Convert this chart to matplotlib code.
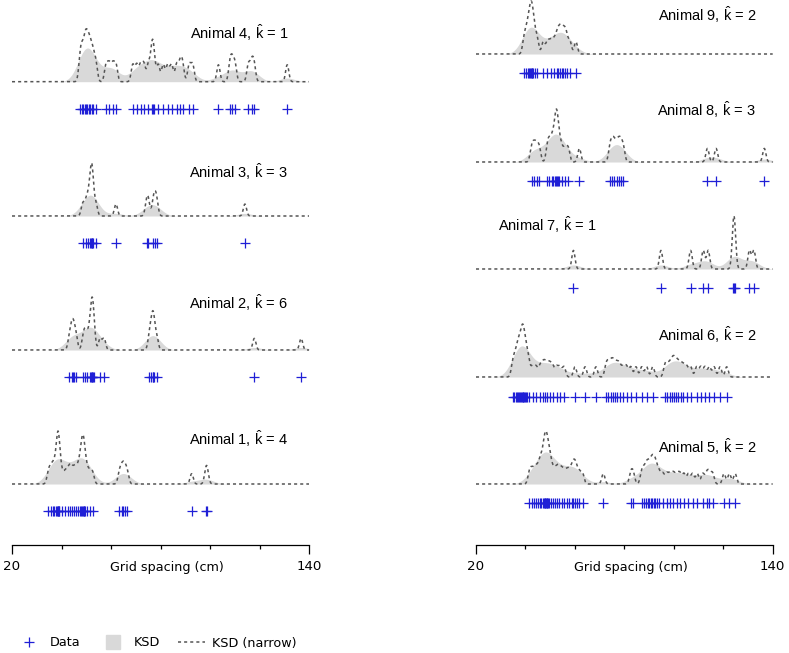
import numpy as np
import matplotlib
matplotlib.use('Agg')
import matplotlib.pyplot as plt
from matplotlib.lines import Line2D

# grid spacings (cm) per animal
animal_1 = [34.7, 35.6, 36.4, 37.1, 37.8, 38.3, 38.5, 38.7, 38.9, 39.1, 40.1,
            41.4, 42.5, 43.4, 44.1, 45.1, 45.9, 46.8, 47.5, 48.0, 48.3, 48.6,
            48.9, 49.1, 49.6, 50.4, 51.5, 52.6,
            63.4, 64.3, 65.0, 65.7, 66.6, 92.6, 98.3, 98.9]
animal_2 = [43.2, 44.1, 44.5, 45.1, 45.9, 48.8, 49.6, 50.4, 51.5, 51.9, 52.3,
            52.5, 52.7, 53.1, 55.6, 57.2,
            75.5, 76.2, 76.8, 77.1, 77.4, 78.5, 117.9, 136.8]
animal_3 = [48.6, 49.9, 50.8, 51.5, 52.0, 52.2, 52.4, 52.6, 53.9,
            62.0, 74.4, 75.1, 77.1, 77.8, 78.5, 114.1]
animal_4 = [47.5, 48.1, 48.8, 49.5, 49.9, 50.4, 51.0, 51.5, 52.2, 52.9, 53.9,
            58.0, 59.3, 60.7, 62.0,
            68.8, 70.4, 72.0, 73.3, 75.1, 76.4, 76.8, 77.4, 79.1,
            81.1, 82.9, 84.5, 86.5, 87.9, 88.9, 91.6, 93.0,
            103.4, 108.1, 109.0, 110.1, 115.5, 116.8, 117.8, 131.2]
animal_5 = [41.6, 42.5, 43.5, 44.3, 45.2, 45.9, 46.4, 47.0, 47.4, 47.8, 48.0,
            48.3, 48.6, 48.9, 49.3, 49.7, 50.2, 51.0, 52.0, 52.9, 53.7, 54.6,
            55.6, 56.7, 57.7, 58.7, 59.4, 60.0, 60.7, 61.8, 63.1,
            71.5,
            82.6, 83.6, 87.0, 87.9, 88.8, 89.4, 90.1, 90.8, 91.3, 91.9, 92.4,
            93.1, 94.1, 95.5, 97.1, 98.5, 99.8, 101.2, 102.5, 104.1, 105.9,
            107.6, 109.5, 111.7, 113.3, 114.4, 115.7, 120.3, 122.5, 124.8]
animal_6 = [34.8, 35.5, 36.2, 36.7, 37.1, 37.5, 37.9, 38.3, 38.6, 38.9, 39.1,
            39.4, 39.8, 40.2, 40.8, 41.4,
            42.9, 44.3, 45.9, 47.0, 47.9, 48.9, 49.9, 51.0, 52.6, 54.0, 55.6,
            60.0, 64.1, 68.5,
            72.6, 73.5, 74.5, 75.3, 76.2, 77.2, 78.2, 79.6, 80.9, 82.6, 84.7,
            87.0, 89.0, 91.5,
            96.4, 97.4, 98.5, 99.4, 100.1, 100.9, 101.8, 102.8, 103.9, 105.2,
            106.8, 109.2, 110.9, 112.6, 114.4, 116.3, 118.7, 121.4]
animal_7 = [59.4, 94.8, 106.8, 111.9, 113.9, 124.1, 124.3, 124.6, 130.6, 132.4]
animal_8 = [42.5, 43.5, 44.5, 45.6, 48.9, 49.7, 50.6, 51.3, 52.0, 52.4, 52.6,
            53.0, 53.6, 54.6, 56.0, 57.3, 61.8,
            74.2, 75.1, 75.9, 76.9, 77.8, 78.6, 79.6, 113.6, 117.1, 136.6]
animal_9 = [39.4, 40.2, 40.9, 41.4, 41.8, 42.2, 42.5, 42.8, 43.2, 43.9, 44.8,
            47.2, 48.9, 50.2, 51.5, 52.6, 53.3, 54.0, 54.6, 55.3, 56.0, 56.7,
            58.0, 60.4]

animal_ids = [4, 3, 2, 1, 9, 8, 7, 6, 5]
k_hats = [1, 3, 6, 4, 2, 3, 1, 2, 2]
spacings = [animal_4, animal_3, animal_2, animal_1,
            animal_9, animal_8, animal_7, animal_6, animal_5]

x_ticks = [20, 40, 60, 80, 100, 120, 140]
x_ticklabels = ['20', '', '', '', '', '', '140']

BW_WIDE = 3.0
BW_NARROW = 0.65

# layout (pixels of the 789x653 image)
W, H = 789, 653
cols = [(12, 309), (476, 772.7)]
# column, baseline y, marker gap, title x, title ha, title rise
layout = [
    (0, 81.7, 27, 131.5, 'right', 49),
    (0, 216, 27, 131.5, 'right', 44),
    (0, 350, 27, 131.5, 'right', 47),
    (0, 484, 27, 131.5, 'right', 45),
    (1, 54, 19, 133.2, 'right', 39),
    (1, 162, 19, 133.2, 'right', 52),
    (1, 269, 19, 28.9, 'left', 44),
    (1, 377, 20, 133.2, 'right', 42),
    (1, 484, 19, 133.2, 'right', 37),
]
PEAK_PX = 53
AXIS_Y = 545

FILL = '#d9d9d9'
DASH = '#555555'
BLUE = '#1f1fd6'

plt.rcParams['font.family'] = ['DejaVu Sans']
plt.rcParams['mathtext.fontset'] = 'custom'
plt.rcParams['mathtext.rm'] = 'Liberation Sans'
plt.rcParams['mathtext.it'] = 'Liberation Sans'


def kde(data, grid, bw):
    d = np.asarray(data)
    z = (grid[:, None] - d[None, :]) / bw
    return np.exp(-0.5 * z ** 2).sum(axis=1) / (len(d) * bw * np.sqrt(2 * np.pi))


def px_axes(fig, x0, x1, ytop, ybot):
    return fig.add_axes([x0 / W, 1 - ybot / H, (x1 - x0) / W, (ybot - ytop) / H])


fig = plt.figure(figsize=(W / 100, H / 100), dpi=100)
grid = np.linspace(20, 140, 1500)

for animal, k, data, (col, base, gap, tx, tha, rise) in zip(animal_ids, k_hats, spacings, layout):
    x0, x1 = cols[col]
    top, bot = base - 62, base + gap + 8
    ax = px_axes(fig, x0, x1, top, bot)
    ax.set_xlim(20, 140)
    ax.set_ylim(-(gap + 8) / PEAK_PX, 62 / PEAK_PX)
    ax.axis('off')

    wide = kde(data, grid, BW_WIDE)
    narrow = kde(data, grid, BW_NARROW)
    scale = narrow.max()
    ax.fill_between(grid, 0, wide / scale, color=FILL, lw=0)
    ax.plot(grid, narrow / scale, color=DASH, lw=1.1, ls=(0, (2.0, 2.0)))
    ax.plot(data, np.full(len(data), -gap / PEAK_PX), ls='none', marker='+',
            ms=6.5, mew=0.9, color=BLUE, clip_on=False)
    ax.text(tx, rise / PEAK_PX, f'Animal {animal}, ' + r'$\hat{\mathrm{k}}$' + f' = {k}',
            ha=tha, va='center', fontsize=10.5, family='Liberation Sans', clip_on=False)

for x0, x1 in cols:
    ax = px_axes(fig, x0, x1, AXIS_Y - 10, AXIS_Y)
    ax.set_xlim(20, 140)
    ax.set_yticks([])
    for s in ['top', 'left', 'right']:
        ax.spines[s].set_visible(False)
    ax.spines['bottom'].set_linewidth(0.9)
    ax.patch.set_visible(False)
    ax.set_xticks([x_ticks[0], x_ticks[-1]])
    ax.set_xticklabels([x_ticklabels[0], x_ticklabels[-1]])
    ax.set_xticks(x_ticks[1:-1], minor=True)
    ax.tick_params(axis='x', which='major', length=6.5, width=0.9, pad=4, labelsize=9.6)
    ax.tick_params(axis='x', which='minor', length=3.1, width=0.9)
    ax.annotate('Grid spacing (cm)', xy=(82.5, 0), xycoords=ax.get_xaxis_transform(),
                xytext=(0, -23), textcoords='offset pixels', ha='center', va='center',
                fontsize=9.2)

handles = [
    Line2D([], [], ls='none', marker='+', ms=6.5, mew=0.9, color=BLUE),
    Line2D([], [], ls='none', marker='s', ms=10, color=FILL),
    Line2D([], [], color=DASH, lw=1.1, ls=(0, (2.0, 2.0))),
]
fig.legend(handles, ['Data', 'KSD', 'KSD (narrow)'], ncol=3, frameon=False,
           loc='center left', bbox_to_anchor=(16 / W, 1 - 643 / H),
           borderaxespad=0, borderpad=0, fontsize=9.2, handlelength=2.1,
           handletextpad=0.58, columnspacing=1.43)

fig.savefig('out.png', dpi=100)
